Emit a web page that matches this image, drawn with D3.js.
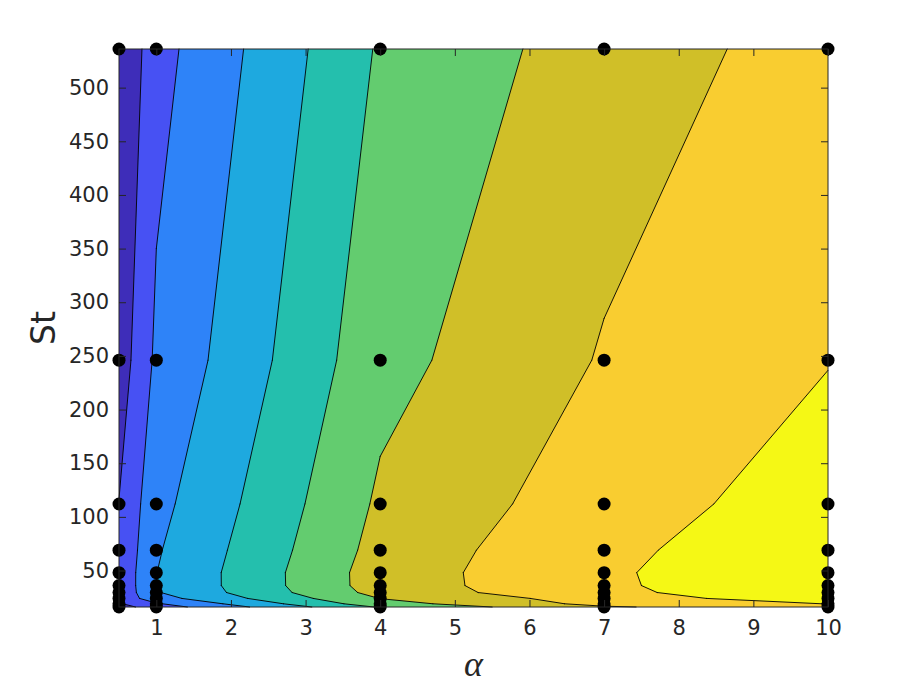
<!DOCTYPE html>
<html><head><meta charset="utf-8">
<script src="https://cdn.jsdelivr.net/npm/d3@7"></script>
<style>html,body{margin:0;padding:0;background:#fff;} svg{display:block;}</style>
</head><body>
<svg id="chart" width="915" height="686"></svg>
<script>
// ---- data ----
const alphaValues = [0.5, 1, 4, 7, 10];
const stValues = [16, 19, 24, 29.5, 36, 48, 69, 112, 246, 536];
// field values at each sample (rows follow stValues, columns follow alphaValues)
const zSt16  = [0.6,   1.5,   5.1,   6.9,   7.6];
const zSt19  = [0.9,   1.9,   5.6,   7.3,   8.02];
const zSt24  = [1.253, 2.611, 6.019, 7.483, 8.614];
const zSt29  = [1.189, 2.93,  6.344, 7.845, 8.499];
const zSt36  = [1.2,   2.99,  6.47,  7.87,  8.65];
const zSt48  = [1.197, 2.989, 6.478, 7.885, 8.674];
const zSt69  = [1.107, 2.908, 6.346, 7.867, 8.416];
const zSt112 = [1.02,  2.71,  6.16,  7.581, 8.436];
const zSt246 = [0.435, 2.196, 5.677, 7.077, 7.967];
const zSt536 = [-0.04, 1.649, 5.115, 6.504, 7.406];
const zValues = [zSt16, zSt19, zSt24, zSt29, zSt36, zSt48, zSt69, zSt112, zSt246, zSt536];
const levels = [1, 2, 3, 4, 5, 6, 7, 8];
const bandColors = ["#3e2db9", "#4751f3", "#2e83f8", "#1ea9df", "#24bfad",
                    "#63cc6f", "#d0bf28", "#f9cd30", "#f5f815"];
const xTicks = [1, 2, 3, 4, 5, 6, 7, 8, 9, 10];
const yTicks = [50, 100, 150, 200, 250, 300, 350, 400, 450, 500];

// ---- layout ----
const plotL = 119, plotR = 828, plotT = 49, plotB = 607;
const axisColor = "#262626";
const svg = d3.select("#chart");
const x = d3.scaleLinear().domain([0.5, 10]).range([plotL, plotR]);
const y = d3.scaleLinear().domain([16, 536]).range([plotB, plotT]);

const nx = alphaValues.length, ny = stValues.length;

function edgeWalk(i, j, L, keepCorners) {
  const corners = [[i, j], [i + 1, j], [i + 1, j + 1], [i, j + 1]];
  const pts = [];
  for (let k = 0; k < 4; k++) {
    const a = corners[k], b = corners[(k + 1) % 4];
    const za = zValues[a[1]][a[0]], zb = zValues[b[1]][b[0]];
    const pa = [alphaValues[a[0]], stValues[a[1]]], pb = [alphaValues[b[0]], stValues[b[1]]];
    if (keepCorners && za >= L) pts.push(pa);
    if ((za >= L) !== (zb >= L)) {
      const t = (L - za) / (zb - za);
      pts.push([pa[0] + t * (pb[0] - pa[0]), pa[1] + t * (pb[1] - pa[1])]);
    }
  }
  return pts;
}

// base band
svg.append("rect")
  .attr("x", x(0.5)).attr("y", y(536))
  .attr("width", x(10) - x(0.5)).attr("height", y(16) - y(536))
  .attr("fill", bandColors[0]);

const fills = svg.append("g");
levels.forEach((L, li) => {
  const p = d3.path();
  for (let j = 0; j < ny - 1; j++) for (let i = 0; i < nx - 1; i++) {
    const poly = edgeWalk(i, j, L, true);
    if (poly.length < 3) continue;
    poly.forEach((pt, k) => k === 0 ? p.moveTo(x(pt[0]), y(pt[1])) : p.lineTo(x(pt[0]), y(pt[1])));
    p.closePath();
  }
  fills.append("path").attr("d", p.toString()).attr("fill", bandColors[li + 1]);
});

const lines = svg.append("g");
levels.forEach(L => {
  const p = d3.path();
  for (let j = 0; j < ny - 1; j++) for (let i = 0; i < nx - 1; i++) {
    const c = edgeWalk(i, j, L, false);
    for (let k = 0; k + 1 < c.length; k += 2) {
      p.moveTo(x(c[k][0]), y(c[k][1]));
      p.lineTo(x(c[k + 1][0]), y(c[k + 1][1]));
    }
  }
  lines.append("path").attr("d", p.toString())
    .attr("fill", "none").attr("stroke", "#000").attr("stroke-width", 0.9)
    .attr("stroke-linecap", "round");
});

// sample points
const samples = [];
stValues.forEach(s => alphaValues.forEach(a => samples.push([a, s])));
svg.append("g").selectAll("circle").data(samples).join("circle")
  .attr("cx", d => x(d[0])).attr("cy", d => y(d[1])).attr("r", 6.5).attr("fill", "#000");

// axes
const fontTick = "DejaVu Sans";
function styleAxis(g) {
  g.select(".domain").remove();
  g.selectAll(".tick line").attr("stroke", axisColor).attr("stroke-width", 1);
  g.selectAll(".tick text").attr("fill", axisColor).style("font-family", fontTick).style("font-size", "21px");
}
svg.append("g").attr("transform", `translate(0,${plotB})`)
  .call(d3.axisBottom(x).tickValues(xTicks).tickFormat(d3.format("d")).tickSizeInner(-7).tickSizeOuter(0).tickPadding(13))
  .call(styleAxis);
svg.append("g").attr("transform", `translate(0,${plotT})`)
  .call(d3.axisTop(x).tickValues(xTicks).tickFormat("").tickSizeInner(-7).tickSizeOuter(0))
  .call(styleAxis);
svg.append("g").attr("transform", `translate(${plotL},0)`)
  .call(d3.axisLeft(y).tickValues(yTicks).tickFormat(d3.format("d")).tickSizeInner(-7).tickSizeOuter(0).tickPadding(10))
  .call(styleAxis);
svg.append("g").attr("transform", `translate(${plotR},0)`)
  .call(d3.axisRight(y).tickValues(yTicks).tickFormat("").tickSizeInner(-7).tickSizeOuter(0))
  .call(styleAxis);
svg.append("rect").attr("x", plotL).attr("y", plotT).attr("width", plotR - plotL).attr("height", plotB - plotT)
  .attr("fill", "none").attr("stroke", axisColor).attr("stroke-width", 1);

svg.append("text").text("St")
  .attr("transform", `translate(55,${(plotT + plotB) / 2}) rotate(-90)`)
  .attr("text-anchor", "middle").attr("fill", axisColor)
  .style("font-family", "DejaVu Sans").style("font-size", "33px");
svg.append("text").text("α")
  .attr("x", (plotL + plotR) / 2).attr("y", 676)
  .attr("text-anchor", "middle").attr("fill", axisColor)
  .style("font-family", "Liberation Serif").style("font-style", "italic").style("font-size", "36px");
</script>
</body></html>
